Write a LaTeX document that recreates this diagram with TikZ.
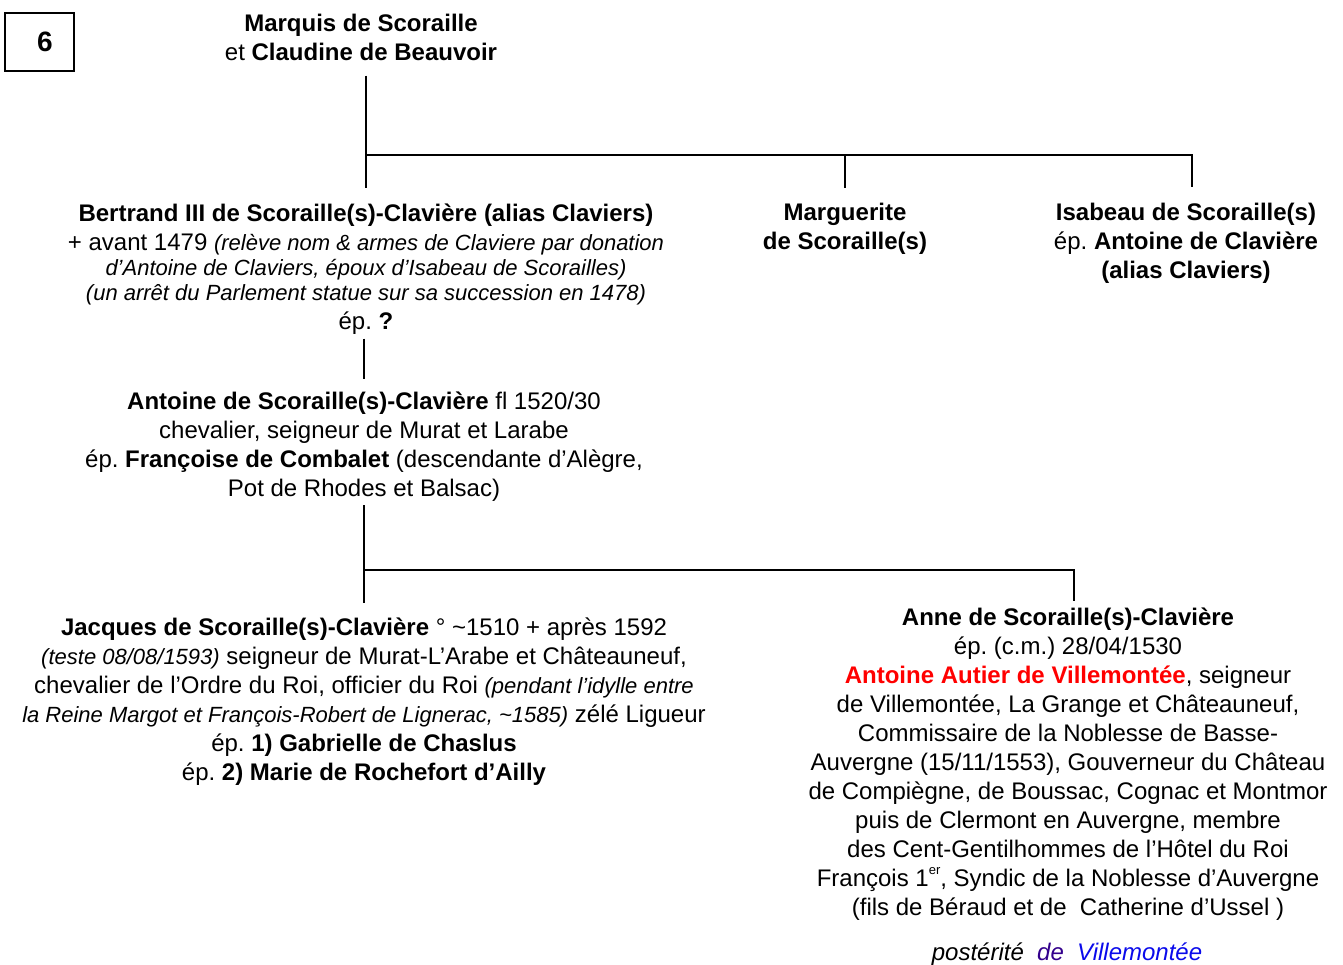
\documentclass[tikz,border=0pt]{standalone}
\usepackage{fontspec}
\setmainfont{Liberation Sans}
\usepackage{xcolor}
\usetikzlibrary{positioning, calc}

\definecolor{navy}{RGB}{51,0,140}
\definecolor{villeblue}{RGB}{10,10,235}

\newcommand{\note}[1]{{\fontsize{11}{12.75}\selectfont\itshape #1}}
\newcommand{\supsmall}[1]{\raisebox{0.9ex}{\fontsize{6.5}{7}\selectfont #1}}
\frenchspacing

\begin{document}
\begin{tikzpicture}[x=0.5pt, y=-0.5pt, >=stealth,
    person/.style={align=center, inner sep=0pt, font=\fontsize{12}{14.5}\selectfont},
    link/.style={line width=1.2pt}]
    \useasboundingbox (0,0) rectangle (1343,964);

    % Nodes
    \node (tab) [draw, line width=0.6pt, minimum width=34.5pt, minimum height=29pt, font=\fontsize{14}{16}\selectfont\bfseries] at (39.5,42) {\hspace*{5.5pt}6};
    \node (couple) [person] at (361,37) {\textbf{Marquis de Scoraille}\\et \textbf{Claudine de Beauvoir}};
    \node (bertrand) [person] at (366,269) {\textbf{Bertrand III de Scoraille(s)-Clavière (alias Claviers)}\\
        + avant 1479 \note{(relève nom \& armes de Claviere par donation}\\[-2pt]
        \note{d’Antoine de Claviers, époux d’Isabeau de Scorailles)}\\[-2pt]
        \note{(un arrêt du Parlement statue sur sa succession en 1478)}\\
        ép. \textbf{?}};
    \node (marguerite) [person] at (845,229) {\textbf{Marguerite}\\\textbf{de Scoraille(s)}};
    \node (isabeau) [person] at (1186,243) {\textbf{Isabeau de Scoraille(s)}\\ép. \textbf{Antoine de Clavière}\\\textbf{(alias Claviers)}};
    \node (antoine) [person] at (364,447) {\textbf{Antoine de Scoraille(s)-Clavière} fl 1520/30\\
        chevalier, seigneur de Murat et Larabe\\
        ép. \textbf{Françoise de Combalet} (descendante d’Alègre,\\
        Pot de Rhodes et Balsac)};
    \node (jacques) [person] at (364,702) {\textbf{Jacques de Scoraille(s)-Clavière} ° \textasciitilde1510 + après 1592\\
        \note{(teste 08/08/1593)} seigneur de Murat-L’Arabe et Châteauneuf,\\
        chevalier de l’Ordre du Roi, officier du Roi \note{(pendant l’idylle entre}\\
        \note{la Reine Margot et François-Robert de Lignerac, \textasciitilde1585)} zélé Ligueur\\
        ép. \textbf{1) Gabrielle de Chaslus}\\
        ép. \textbf{2) Marie de Rochefort d’Ailly}};
    \node (anne) [person] at (1068,764) {\textbf{Anne de Scoraille(s)-Clavière}\\
        ép. (c.m.) 28/04/1530\\
        \textcolor{red}{\textbf{Antoine Autier de Villemontée}}, seigneur\\
        de Villemontée, La Grange et Châteauneuf,\\
        Commissaire de la Noblesse de Basse-\\
        Auvergne (15/11/1553), Gouverneur du Château\\
        de Compiègne, de Boussac, Cognac et Montmor\\
        puis de Clermont en Auvergne, membre\\
        des Cent-Gentilhommes de l’Hôtel du Roi\\
        François 1\supsmall{er}, Syndic de la Noblesse d’Auvergne\\
        (fils de Béraud et de \ Catherine d’Ussel )};
    \node (posterite) [person, font=\fontsize{12}{14.5}\selectfont\itshape] at (1067,954) {postérité \ \textcolor{navy}{de} \ \textcolor{villeblue}{Villemontée}};

    % Branch levels
    \coordinate (bar1) at (0,155);
    \coordinate (bar2) at (0,570);

    % Edges
    \draw[link] ([yshift=-7.5pt]couple.south -| bertrand.north) -- ([yshift=7.5pt]bertrand.north);
    \draw[link] (bertrand.north |- bar1) -| ([xshift=3pt, yshift=7.5pt]isabeau.north);
    \draw[link] (marguerite.north |- bar1) -- ([yshift=7.5pt]marguerite.north);
    \draw[link] ([yshift=-2pt]bertrand.south -| antoine.north) -- ([yshift=6.5pt]antoine.north);
    \draw[link] ([yshift=-1.5pt]antoine.south) -- ([yshift=7.5pt]jacques.north -| antoine.south);
    \draw[link] (antoine.south |- bar2) -| ([xshift=3pt, yshift=3pt]anne.north);
\end{tikzpicture}
\end{document}
